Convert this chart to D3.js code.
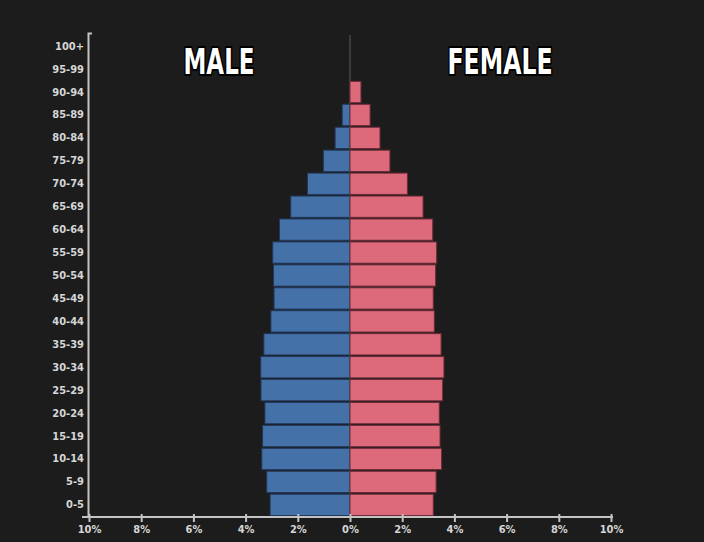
<!DOCTYPE html>
<html>
<head>
<meta charset="utf-8">
<script src="https://cdn.jsdelivr.net/npm/d3@7"></script>
<style>
  html, body { margin: 0; padding: 0; background: #1c1c1c; }
  svg { display: block; }
  .lbl { font-family: "Liberation Sans Narrow", "DejaVu Sans Condensed", sans-serif; font-weight: bold; font-size: 11px; fill: #d6d6d6; }
  .title { font-family: "Liberation Sans Narrow", "DejaVu Sans Condensed", sans-serif; font-weight: bold; font-size: 36px; fill: #fff;
           stroke: #000; stroke-width: 4px; paint-order: stroke; stroke-linejoin: round; }
</style>
</head>
<body>
<svg id="chart" width="704" height="542"></svg>
<script>
// age groups, bottom to top (labels as written on the chart)
const ages = ['0-5', '5-9', '10-14', '15-19', '20-24', '25-29', '30-34', '35-39', '40-44', '45-49',
  '50-54', '55-59', '60-64', '65-69', '70-74', '75-79', '80-84', '85-89', '90-94', '95-99', '100+'];

// share of population, %
const male = [3.06, 3.19, 3.38, 3.35, 3.26, 3.41, 3.42, 3.30, 3.03, 2.91,
  2.93, 2.96, 2.70, 2.27, 1.63, 1.02, 0.57, 0.30, 0, 0, 0];
const female = [3.19, 3.30, 3.51, 3.45, 3.42, 3.55, 3.60, 3.49, 3.23, 3.19,
  3.28, 3.32, 3.17, 2.80, 2.20, 1.53, 1.15, 0.77, 0.42, 0, 0];

const xTicks = [-10, -8, -6, -4, -2, 0, 2, 4, 6, 8, 10];

const svg = d3.select('#chart');

const x = d3.scaleLinear().domain([-10, 10]).range([89, 611]);
const y = d3.scaleBand().domain(ages.slice().reverse()).range([35.5, 515.5]).paddingInner(0.07);

// thin zero line behind the bars
svg.append('line')
  .attr('x1', x(0)).attr('x2', x(0))
  .attr('y1', 35).attr('y2', 516)
  .attr('stroke', '#5a5a5a').attr('stroke-width', 1);

const rows = ages.map((a, i) => ({ age: a, m: male[i], f: female[i] }));

svg.append('g').selectAll('rect')
  .data(rows.filter(d => d.m > 0))
  .join('rect')
  .attr('x', d => x(-d.m))
  .attr('y', d => y(d.age))
  .attr('width', d => x(0) - x(-d.m))
  .attr('height', y.bandwidth())
  .attr('fill', '#4571a9')
  .attr('stroke', '#22385a')
  .attr('stroke-width', 1);

svg.append('g').selectAll('rect')
  .data(rows.filter(d => d.f > 0))
  .join('rect')
  .attr('x', x(0))
  .attr('y', d => y(d.age))
  .attr('width', d => x(d.f) - x(0))
  .attr('height', y.bandwidth())
  .attr('fill', '#dd6a7a')
  .attr('stroke', '#6a2a36')
  .attr('stroke-width', 1);

// axes
const axisColor = '#c4c4c4';

const xAxis = svg.append('g')
  .attr('transform', 'translate(0,517)')
  .call(d3.axisBottom(x).tickValues(xTicks).tickSize(6).tickFormat(d => Math.abs(d) + '%'));
xAxis.select('.domain').remove();
xAxis.selectAll('.tick line')
  .attr('y1', -3).attr('y2', 5)
  .attr('stroke', axisColor).attr('stroke-width', 2);
xAxis.selectAll('.tick text')
  .attr('class', 'lbl').attr('y', 8).attr('dy', '0.71em');

svg.append('line')
  .attr('x1', 82).attr('x2', 613)
  .attr('y1', 517).attr('y2', 517)
  .attr('stroke', axisColor).attr('stroke-width', 2);

const yAxis = svg.append('g')
  .attr('transform', 'translate(89,0)')
  .call(d3.axisLeft(y).tickSize(0).tickPadding(5));
yAxis.select('.domain').remove();
yAxis.selectAll('.tick text').attr('class', 'lbl');

svg.append('path')
  .attr('d', 'M92,33.5H88.5V517')
  .attr('fill', 'none')
  .attr('stroke', axisColor).attr('stroke-width', 2);

// titles
svg.append('text').attr('class', 'title')
  .attr('x', 219).attr('y', 74).attr('text-anchor', 'middle')
  .attr('textLength', 71).attr('lengthAdjust', 'spacingAndGlyphs')
  .text('MALE');

svg.append('text').attr('class', 'title')
  .attr('x', 500).attr('y', 74).attr('text-anchor', 'middle')
  .attr('textLength', 105).attr('lengthAdjust', 'spacingAndGlyphs')
  .text('FEMALE');
</script>
</body>
</html>
